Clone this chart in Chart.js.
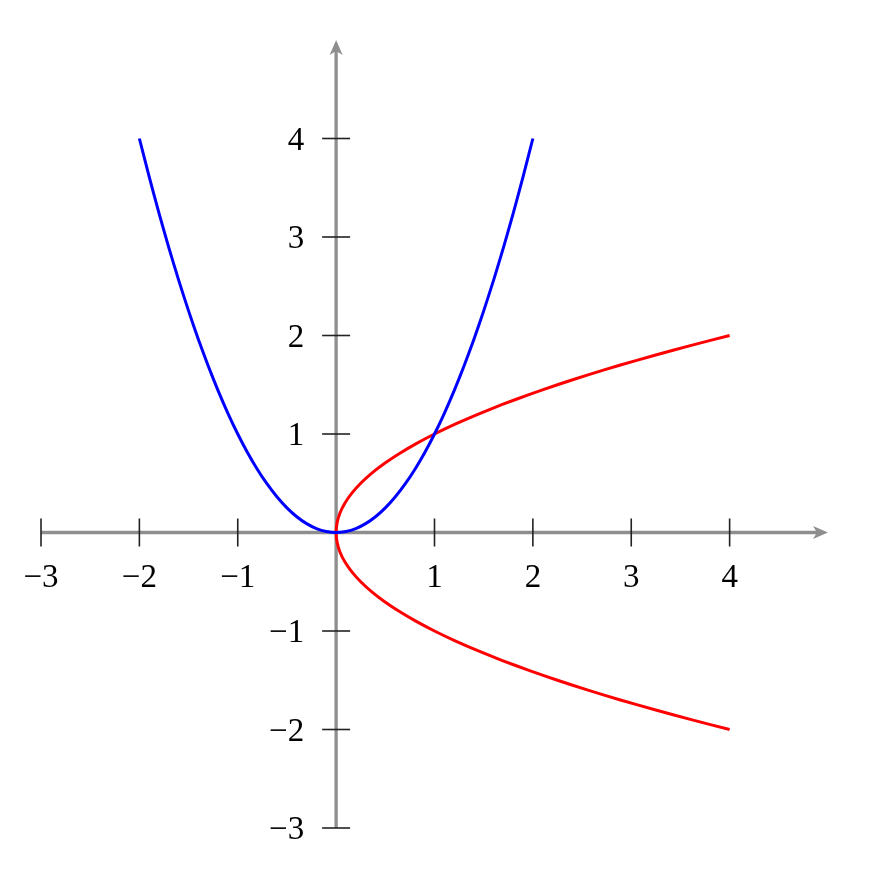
<!DOCTYPE html>
<html>
<head>
<meta charset="utf-8">
<script src="https://cdn.jsdelivr.net/npm/chart.js@4"></script>
<style>
html,body{margin:0;padding:0;background:#fff;}
canvas{display:block;}
</style>
</head>
<body>
<canvas id="c" width="870" height="870"></canvas>
<script>
// Blue curve (y = x^2)
const blueX = [-2,-1.9,-1.8,-1.7,-1.6,-1.5,-1.4,-1.3,-1.2,-1.1,-1,-0.9,-0.8,-0.7,-0.6,-0.5,-0.4,-0.3,-0.2,-0.1,0,0.1,0.2,0.3,0.4,0.5,0.6,0.7,0.8,0.9,1,1.1,1.2,1.3,1.4,1.5,1.6,1.7,1.8,1.9,2];
const blueY = [4,3.61,3.24,2.89,2.56,2.25,1.96,1.69,1.44,1.21,1,0.81,0.64,0.49,0.36,0.25,0.16,0.09,0.04,0.01,0,0.01,0.04,0.09,0.16,0.25,0.36,0.49,0.64,0.81,1,1.21,1.44,1.69,1.96,2.25,2.56,2.89,3.24,3.61,4];
// Red curve (x = y^2)
const redX = [4,3.61,3.24,2.89,2.56,2.25,1.96,1.69,1.44,1.21,1,0.81,0.64,0.49,0.36,0.25,0.16,0.09,0.04,0.01,0,0.01,0.04,0.09,0.16,0.25,0.36,0.49,0.64,0.81,1,1.21,1.44,1.69,1.96,2.25,2.56,2.89,3.24,3.61,4];
const redY = [-2,-1.9,-1.8,-1.7,-1.6,-1.5,-1.4,-1.3,-1.2,-1.1,-1,-0.9,-0.8,-0.7,-0.6,-0.5,-0.4,-0.3,-0.2,-0.1,0,0.1,0.2,0.3,0.4,0.5,0.6,0.7,0.8,0.9,1,1.1,1.2,1.3,1.4,1.5,1.6,1.7,1.8,1.9,2];
// Tick labels
const xTicks = [-3,-2,-1,1,2,3,4];
const yTicks = [-3,-2,-1,1,2,3,4];
const xRange = [-3,5];
const yRange = [-3,5];

const toPts = (xs, ys) => xs.map((x,i)=>({x:x, y:ys[i]}));
const fmt = v => (v < 0 ? '\u2212' + Math.abs(v) : String(v));

const axesPlugin = {
  id: 'axes',
  beforeDatasetsDraw(chart) {
    const ctx = chart.ctx;
    const xs = chart.scales.x, ys = chart.scales.y;
    const ox = xs.getPixelForValue(0), oy = ys.getPixelForValue(0);
    const xL = xs.getPixelForValue(xRange[0]), xR = xs.getPixelForValue(xRange[1]);
    const yB = ys.getPixelForValue(yRange[0]), yT = ys.getPixelForValue(yRange[1]);
    ctx.save();
    const gray = '#8e8e8e';
    ctx.strokeStyle = gray; ctx.lineWidth = 3.3; ctx.lineCap = 'butt';
    // x axis
    ctx.beginPath(); ctx.moveTo(xL, oy); ctx.lineTo(xR - 8, oy); ctx.stroke();
    // y axis
    ctx.beginPath(); ctx.moveTo(ox, yB); ctx.lineTo(ox, yT + 8); ctx.stroke();
    // arrowheads
    ctx.fillStyle = gray;
    ctx.beginPath();
    ctx.moveTo(xR, oy); ctx.lineTo(xR - 15, oy - 6.5); ctx.lineTo(xR - 11, oy); ctx.lineTo(xR - 15, oy + 6.5); ctx.closePath(); ctx.fill();
    ctx.beginPath();
    ctx.moveTo(ox, yT); ctx.lineTo(ox - 6.5, yT + 15); ctx.lineTo(ox, yT + 11); ctx.lineTo(ox + 6.5, yT + 15); ctx.closePath(); ctx.fill();
    // tick marks
    ctx.strokeStyle = '#222'; ctx.lineWidth = 1.6;
    xTicks.forEach(v => {
      const px = xs.getPixelForValue(v);
      ctx.beginPath(); ctx.moveTo(px, oy - 14); ctx.lineTo(px, oy + 14); ctx.stroke();
    });
    yTicks.forEach(v => {
      const py = ys.getPixelForValue(v);
      ctx.beginPath(); ctx.moveTo(ox - 14, py); ctx.lineTo(ox + 14, py); ctx.stroke();
    });
    // labels
    ctx.fillStyle = '#000';
    ctx.font = '33px "Liberation Serif", serif';
    ctx.textBaseline = 'alphabetic';
    ctx.textAlign = 'center';
    xTicks.forEach(v => {
      ctx.fillText(fmt(v), xs.getPixelForValue(v), oy + 54);
    });
    ctx.textAlign = 'right';
    yTicks.forEach(v => {
      ctx.fillText(fmt(v), ox - 32, ys.getPixelForValue(v) + 11);
    });
    ctx.restore();
  }
};

new Chart(document.getElementById('c'), {
  type: 'scatter',
  data: {
    datasets: [
      { data: toPts(blueX, blueY), showLine: true, borderColor: '#0000ff', borderWidth: 3, pointRadius: 0, fill: false, tension: 0.2 },
      { data: toPts(redX, redY), showLine: true, borderColor: '#ff0000', borderWidth: 3, pointRadius: 0, fill: false, tension: 0.2 }
    ]
  },
  options: {
    responsive: false,
    devicePixelRatio: 1,
    animation: false,
    layout: { padding: { left: 41, right: 42, top: 40, bottom: 42 } },
    plugins: { legend: { display: false }, tooltip: { enabled: false } },
    scales: {
      x: { type: 'linear', min: xRange[0], max: xRange[1], display: false },
      y: { type: 'linear', min: yRange[0], max: yRange[1], display: false }
    }
  },
  plugins: [axesPlugin]
});
</script>
</body>
</html>
